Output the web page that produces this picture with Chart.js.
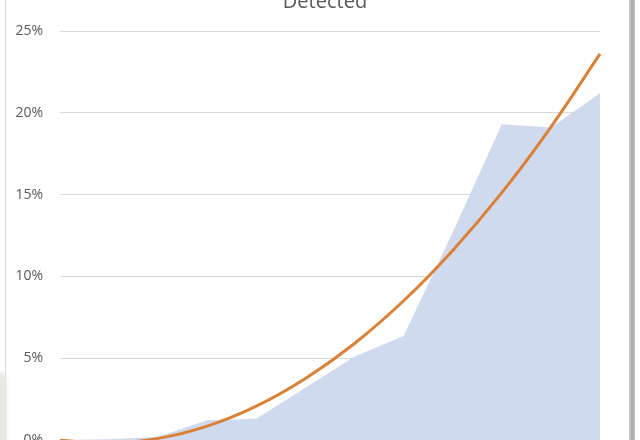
<!DOCTYPE html>
<html>
<head>
<meta charset="utf-8">
<script src="https://cdn.jsdelivr.net/npm/chart.js@4.4.1/dist/chart.umd.min.js"></script>
<style>
  html, body { margin: 0; padding: 0; background: #ffffff; overflow: hidden; }
  #stage { position: relative; width: 640px; height: 440px; overflow: hidden; background: #fff; }
  #chartBox { position: absolute; left: 0; top: 0; width: 640px; height: 480px; }
  #title { position: absolute; left: 0; width: 650px; top: -9px; text-align: center;
           font-family: "Open Sans", sans-serif; font-size: 20px; line-height: 20px; color: #595959; }
  #leftEdge { position: absolute; left: 5px; top: 0; width: 1px; height: 440px; background: #d9d9d9; }
  #rightEdge { position: absolute; left: 629px; top: 0; width: 6px; height: 440px;
               background: linear-gradient(to right, #d0d0d0, #a8a8a8 50%, #c4c4c4); }
  #corner { position: absolute; left: -6px; top: 372px; width: 12px; height: 80px;
            background: #e4e7df; border-radius: 6px; filter: blur(2px); }
</style>
</head>
<body>
<div id="stage">
  <div id="chartBox"><canvas id="c"></canvas></div>
  <div id="leftEdge"></div>
  <div id="corner"></div>
  <div id="rightEdge"></div>
  <div id="title">Detected</div>
</div>
<script>
const categories = ['1','2','3','4','5','6','7','8','9','10','11','12'];
const detected = [0, 0.05, 0.2, 1.2, 1.3, 3.2, 5.1, 6.35, 12.7, 19.3, 19.1, 21.2];
const trend = [-0.02, -0.19, 0.1, 0.85, 2.07, 3.76, 5.9, 8.51, 11.59, 15.12, 19.13, 23.6];
const yTicks = [0, 5, 10, 15, 20, 25];

new Chart(document.getElementById('c'), {
  type: 'line',
  data: {
    labels: categories,
    datasets: [
      {
        label: 'Trend',
        data: trend,
        borderColor: '#db8137',
        borderWidth: 3,
        pointRadius: 0,
        fill: false,
        tension: 0.4,
        order: 0
      },
      {
        label: 'Detected',
        data: detected,
        borderWidth: 0,
        borderColor: 'rgba(0,0,0,0)',
        backgroundColor: 'rgb(207,218,238)',
        pointRadius: 0,
        fill: 'origin',
        tension: 0,
        order: 1
      }
    ]
  },
  options: {
    responsive: true,
    maintainAspectRatio: false,
    animation: false,
    layout: { padding: { left: 0, right: 40, top: 31, bottom: 40 } },
    plugins: { legend: { display: false }, title: { display: false }, tooltip: { enabled: false } },
    scales: {
      x: { type: 'category', display: false, offset: false },
      y: {
        min: 0, max: 25,
        afterBuildTicks: (s) => { s.ticks = yTicks.map(v => ({ value: v })); },
        afterFit: (s) => { s.width = 60; },
        border: { display: false },
        grid: { color: '#d9d9d9', lineWidth: 1, drawTicks: false },
        ticks: {
          padding: 17,
          color: '#595959',
          font: { family: 'Open Sans', size: 14 },
          callback: (v) => v + '%'
        }
      }
    }
  }
});
</script>
</body>
</html>
